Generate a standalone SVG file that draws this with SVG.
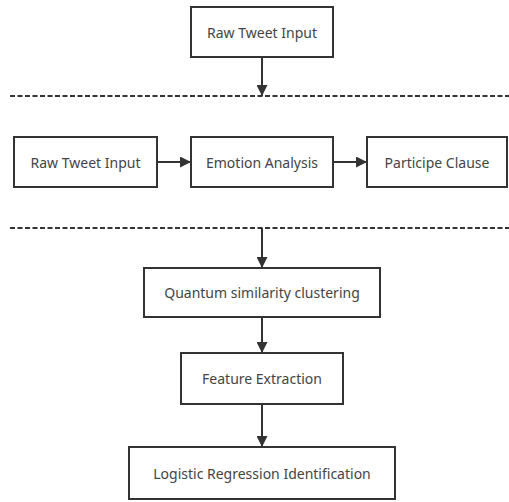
<svg xmlns="http://www.w3.org/2000/svg" width="509" height="502" viewBox="0 0 509 502">
<style>
.box{fill:#fff;stroke:#333;stroke-width:2}
.t{font-family:"Noto Sans","Open Sans",sans-serif;font-size:14px;fill:#444;text-anchor:middle;dominant-baseline:central}
.ln{stroke:#333;stroke-width:2;fill:none}
.dash{stroke:#333;stroke-width:2;stroke-dasharray:5 2.5;fill:none}
</style>
<defs>
<marker id="ah" viewBox="0 0 10 10" refX="10" refY="5" markerWidth="5.5" markerHeight="5.5" orient="auto" markerUnits="strokeWidth">
<path d="M0,0 L10,5 L0,10 Z" fill="#333"/>
</marker>
</defs>
<g id="separators">
<line class="dash" x1="10" y1="96" x2="509" y2="96"/>
<line class="dash" x1="10" y1="228" x2="509" y2="228"/>
</g>
<g id="connectors">
<line class="ln" x1="262" y1="57" x2="262" y2="96" marker-end="url(#ah)"/>
<line class="ln" x1="157" y1="162" x2="191" y2="162" marker-end="url(#ah)"/>
<line class="ln" x1="333" y1="162" x2="367" y2="162" marker-end="url(#ah)"/>
<line class="ln" x1="262" y1="228" x2="262" y2="268" marker-end="url(#ah)"/>
<line class="ln" x1="262" y1="317" x2="262" y2="353" marker-end="url(#ah)"/>
<line class="ln" x1="262" y1="404" x2="262" y2="447" marker-end="url(#ah)"/>
</g>
<g id="n1"><rect class="box" x="191" y="7" width="142" height="50"/><text class="t" x="262" y="32">Raw Tweet Input</text></g>
<g id="n2"><rect class="box" x="14" y="137" width="143" height="50"/><text class="t" x="85.5" y="162">Raw Tweet Input</text></g>
<g id="n3"><rect class="box" x="191" y="137" width="142" height="50"/><text class="t" x="262" y="162">Emotion Analysis</text></g>
<g id="n4"><rect class="box" x="367" y="137" width="140" height="50"/><text class="t" x="437" y="162">Participe Clause</text></g>
<g id="n5"><rect class="box" x="144" y="268" width="236" height="49"/><text class="t" x="262" y="292.5">Quantum similarity clustering</text></g>
<g id="n6"><rect class="box" x="181" y="353" width="162" height="51"/><text class="t" x="262" y="378.5">Feature Extraction</text></g>
<g id="n7"><rect class="box" x="129" y="447" width="266" height="52"/><text class="t" x="262" y="473">Logistic Regression Identification</text></g>
</svg>
